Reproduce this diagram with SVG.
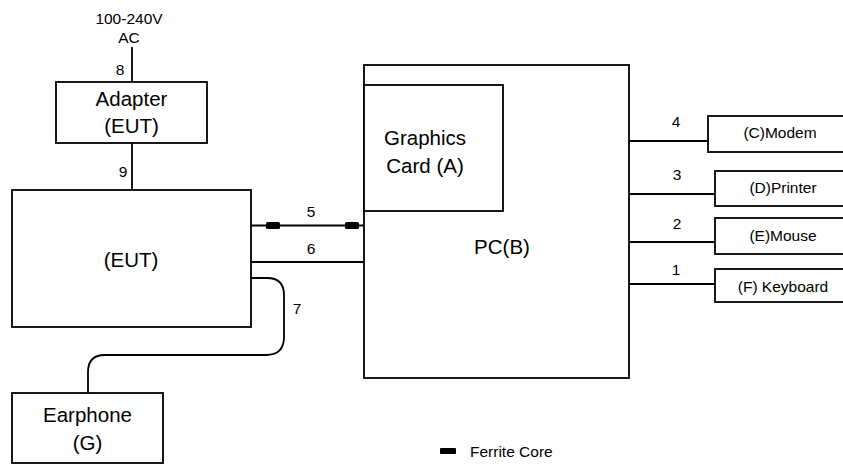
<svg xmlns="http://www.w3.org/2000/svg" width="843" height="464" viewBox="0 0 843 464">
<style>
.box{fill:#fff;stroke:#000;stroke-width:1.8}
.ln{fill:none;stroke:#000;stroke-width:1.8}
.big{font-family:"Liberation Sans",Arial,sans-serif;font-size:20.5px;fill:#000;text-anchor:middle}
.sm{font-family:"Liberation Sans",Arial,sans-serif;font-size:15.5px;fill:#000;text-anchor:middle}
.fc{fill:#000}
</style>
<rect width="843" height="464" fill="#fff"/>
<g id="connectors">
<line class="ln" x1="132" y1="47" x2="132" y2="82"/>
<line class="ln" x1="132" y1="143" x2="132" y2="190"/>
<line class="ln" x1="251" y1="225.5" x2="364" y2="225.5"/>
<rect class="fc" x="266" y="222" width="14" height="7" rx="1.5"/>
<rect class="fc" x="345" y="222" width="14" height="7" rx="1.5"/>
<line class="ln" x1="251" y1="262" x2="364" y2="262"/>
<path class="ln" d="M251,278 H267 Q284,278 284,295 V337 Q284,355 266,355 H105 Q88,355 88,372 V393"/>
<line class="ln" x1="629" y1="141" x2="708" y2="141"/>
<line class="ln" x1="629" y1="194" x2="715" y2="194"/>
<line class="ln" x1="629" y1="242" x2="715" y2="242"/>
<line class="ln" x1="629" y1="284" x2="715" y2="284"/>
<text class="sm" x="120" y="75">8</text>
<text class="sm" x="123" y="177">9</text>
<text class="sm" x="311" y="217">5</text>
<text class="sm" x="311" y="254">6</text>
<text class="sm" x="297" y="314">7</text>
<text class="sm" x="676" y="127">4</text>
<text class="sm" x="677" y="180">3</text>
<text class="sm" x="677" y="229">2</text>
<text class="sm" x="676" y="275">1</text>
</g>
<g id="power">
<text class="sm" x="129" y="24">100-240V</text>
<text class="sm" x="129" y="43">AC</text>
</g>
<g id="adapter">
<rect class="box" x="56" y="82" width="151" height="61"/>
<text class="big" x="131.5" y="106">Adapter</text>
<text class="big" x="131.5" y="133">(EUT)</text>
</g>
<g id="eut">
<rect class="box" x="12" y="190" width="239" height="137"/>
<text class="big" x="131" y="267">(EUT)</text>
</g>
<g id="earphone">
<rect class="box" x="12" y="393" width="151" height="70"/>
<text class="big" x="87.5" y="422">Earphone</text>
<text class="big" x="87.5" y="450">(G)</text>
</g>
<g id="pc">
<rect class="box" x="364" y="65" width="265" height="313"/>
<text class="big" x="502" y="254">PC(B)</text>
</g>
<g id="graphics">
<rect class="box" x="364" y="85" width="139" height="126"/>
<text class="big" x="425" y="145">Graphics</text>
<text class="big" x="425" y="173">Card (A)</text>
</g>
<g id="modem">
<rect class="box" x="708" y="116" width="140" height="36"/>
<text class="sm" x="780" y="138">(C)Modem</text>
</g>
<g id="printer">
<rect class="box" x="715" y="171" width="133" height="35"/>
<text class="sm" x="783" y="193">(D)Printer</text>
</g>
<g id="mouse">
<rect class="box" x="715" y="218" width="133" height="36"/>
<text class="sm" x="783" y="241">(E)Mouse</text>
</g>
<g id="keyboard">
<rect class="box" x="715" y="269" width="133" height="33"/>
<text class="sm" x="783" y="292">(F) Keyboard</text>
</g>
<g id="legend">
<rect class="fc" x="440" y="448" width="16" height="6" rx="1"/>
<text class="sm" x="470" y="457" style="text-anchor:start">Ferrite Core</text>
</g>
</svg>
